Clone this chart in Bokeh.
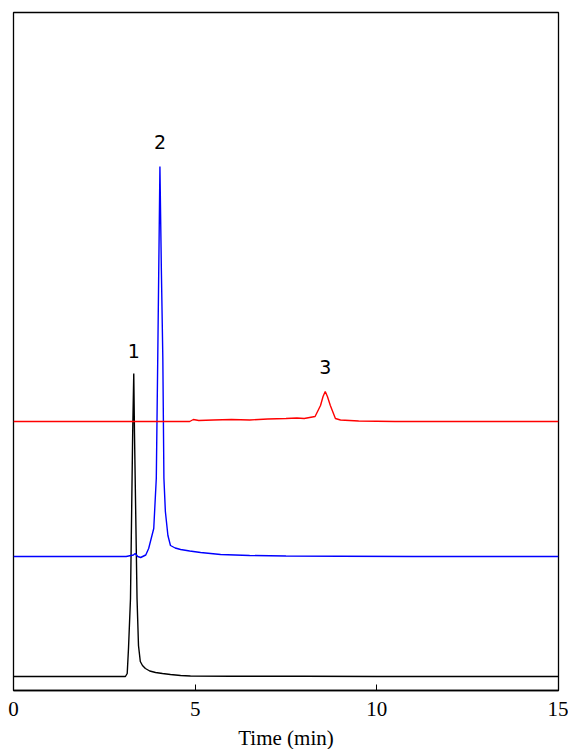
from bokeh.plotting import figure
from bokeh.models import Range1d, FixedTicker
from bokeh.core.properties import value
from bokeh.embed import file_html
from bokeh.resources import INLINE

# Trace 1 (black) - time (min), signal (a.u.)
t_black = [0.0, 1.5, 3.08, 3.13, 3.165, 3.22, 3.28, 3.31, 3.33, 3.40, 3.44, 3.49,
           3.55, 3.63, 3.75, 3.91, 4.10, 4.32, 4.60, 4.87, 6.0, 8.0, 10.0, 12.0, 15.0]
s_black = [14, 14, 14, 17, 42, 92, 257, 317, 257, 92, 45, 29,
           25, 22, 19.5, 18, 17, 16, 15, 14.5, 14.3, 14.2, 14, 14, 14]

# Trace 2 (blue)
t_blue = [0.0, 1.5, 3.10, 3.30, 3.35, 3.42, 3.50, 3.64, 3.72, 3.86, 3.93, 3.97,
          4.03, 4.07, 4.11, 4.14, 4.18, 4.25, 4.32, 4.45, 4.60, 4.85, 5.15, 5.70,
          6.5, 7.5, 9.0, 11.0, 13.0, 15.0]
s_blue = [134, 134, 134, 135.5, 137, 134, 133, 135.5, 142, 162, 212, 332,
          524, 420, 332, 212, 179, 155, 145, 142.5, 141, 139.5, 138, 136,
          135, 134.5, 134.3, 134, 134, 134]

# Trace 3 (red)
t_red = [0.0, 2.0, 4.85, 4.95, 5.10, 5.5, 6.0, 6.5, 7.0, 7.5, 7.8, 8.0, 8.15, 8.30,
         8.45, 8.52, 8.58, 8.64, 8.72, 8.86, 9.0, 9.5, 10.5, 12.0, 15.0]
s_red = [269, 269, 269, 271, 270, 270.5, 271, 270.5, 271.5, 272, 272.5, 272, 273, 274,
         285, 294, 299, 294, 285, 272, 270.5, 269.5, 269, 269, 269]

# Peak labels
peak_labels = ["1", "2", "3"]
peak_t = [3.31, 4.03, 8.58]
peak_y = [340, 549, 324]

x_ticks = [0, 5, 10, 15]

p = figure(frame_width=545, frame_height=678, output_backend="svg",
           toolbar_location=None, x_range=Range1d(0, 15), y_range=Range1d(0, 678),
           y_axis_location=None, min_border_left=13, min_border_top=12,
           min_border_right=10, min_border_bottom=0)

p.line(t_black, s_black, line_color="black", line_width=1.4)
p.line(t_blue, s_blue, line_color="#0000ff", line_width=1.4)
p.line(t_red, s_red, line_color="#ff0000", line_width=1.4)

p.text(x=peak_t, y=peak_y, text=peak_labels, text_font=value("DejaVu Sans"),
       text_font_size="19px", text_align="center", text_baseline="alphabetic",
       text_color="black")

p.xgrid.visible = False
p.ygrid.visible = False
p.outline_line_color = "black"
p.outline_line_width = 1.3
p.outline_line_alpha = 1.0

ax = p.xaxis[0]
ax.ticker = FixedTicker(ticks=x_ticks)
ax.major_tick_in = 6
ax.major_tick_out = 0
ax.minor_tick_line_color = None
ax.axis_line_color = "black"
ax.axis_line_width = 1.3
ax.major_tick_line_color = "black"
ax.major_label_text_font = "Liberation Serif"
ax.major_label_text_font_size = "21px"
ax.major_label_text_color = "black"
ax.major_label_standoff = 11
ax.axis_label = "Time (min)"
ax.axis_label_text_font = "Liberation Serif"
ax.axis_label_text_font_size = "21px"
ax.axis_label_text_font_style = "normal"
ax.axis_label_text_color = "black"
ax.axis_label_standoff = 7

p.background_fill_color = "white"
p.border_fill_color = "white"

open("out.html", "w").write(file_html(p, INLINE))
